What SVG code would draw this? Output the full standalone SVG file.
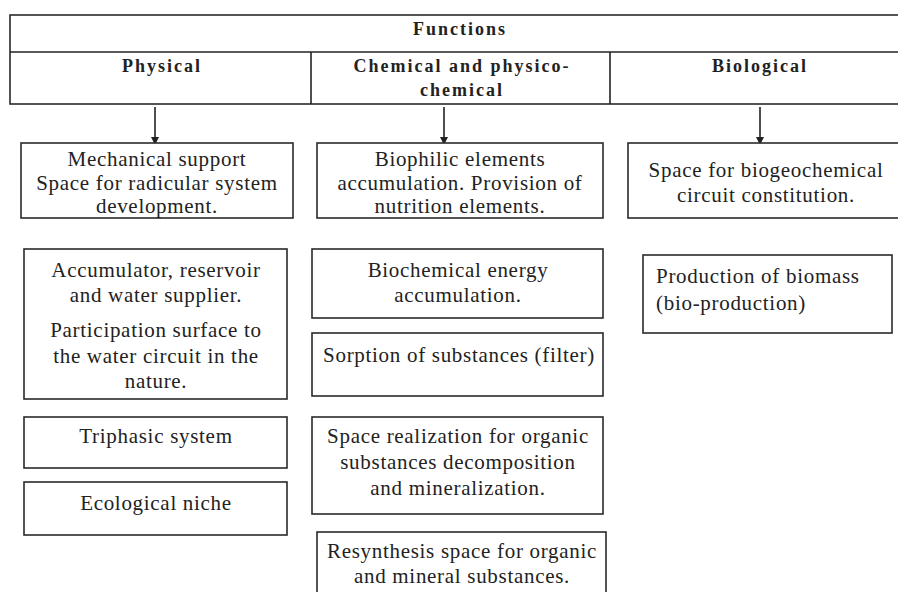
<svg xmlns="http://www.w3.org/2000/svg" width="898" height="592" viewBox="0 0 898 592">
<style>
.b{fill:#fff;stroke:#2a2a2a;stroke-width:1.6}
.t{font-family:"Liberation Serif","Times New Roman",serif;font-size:21px;fill:#222;letter-spacing:0.7px}
.h{font-family:"Liberation Serif","Times New Roman",serif;font-size:18px;font-weight:bold;fill:#222;letter-spacing:2px}
.c{text-anchor:middle}
.ln{stroke:#222;stroke-width:1.6;fill:none}
</style>
<defs>
<marker id="ah" markerWidth="8" markerHeight="8" refX="7" refY="4" orient="auto" markerUnits="userSpaceOnUse">
<path d="M0,0 L8,4 L0,8 z" fill="#222"/>
</marker>
</defs>
<rect width="898" height="592" fill="#fff"/>
<g id="header">
<rect class="b" x="10" y="15" width="892" height="89"/>
<line class="ln" x1="10" y1="52" x2="898" y2="52"/>
<line class="ln" x1="311" y1="52" x2="311" y2="104"/>
<line class="ln" x1="610" y1="52" x2="610" y2="104"/>
<text class="h c" x="460" y="35">Functions</text>
<text class="h c" x="162" y="72">Physical</text>
<text class="h c" x="462" y="72">Chemical and  physico-</text>
<text class="h c" x="462" y="96">chemical</text>
<text class="h c" x="760" y="72">Biological</text>
</g>
<g id="connectors">
<line class="ln" x1="155" y1="107" x2="155" y2="144" marker-end="url(#ah)"/>
<line class="ln" x1="444" y1="107" x2="444" y2="144" marker-end="url(#ah)"/>
<line class="ln" x1="760" y1="107" x2="760" y2="144" marker-end="url(#ah)"/>
</g>
<g id="n-mech">
<rect class="b" x="21" y="143" width="272" height="75"/>
<text class="t c" x="157" y="166">Mechanical support</text>
<text class="t c" x="157" y="190">Space for radicular system</text>
<text class="t c" x="157" y="213">development.</text>
</g>
<g id="n-biophilic">
<rect class="b" x="317" y="143" width="286" height="75"/>
<text class="t c" x="460" y="166">Biophilic elements</text>
<text class="t c" x="460" y="190">accumulation. Provision of</text>
<text class="t c" x="460" y="213">nutrition elements.</text>
</g>
<g id="n-biogeo">
<rect class="b" x="628" y="143" width="272" height="75"/>
<text class="t c" x="766" y="177">Space for biogeochemical</text>
<text class="t c" x="766" y="202">circuit constitution.</text>
</g>
<g id="n-accum">
<rect class="b" x="24" y="249" width="263" height="150"/>
<text class="t c" x="156" y="277">Accumulator, reservoir</text>
<text class="t c" x="156" y="302">and water supplier.</text>
<text class="t c" x="156" y="337">Participation surface to</text>
<text class="t c" x="156" y="363">the water circuit in the</text>
<text class="t c" x="156" y="388">nature.</text>
</g>
<g id="n-triphasic">
<rect class="b" x="24" y="417" width="263" height="51"/>
<text class="t c" x="156" y="443">Triphasic system</text>
</g>
<g id="n-niche">
<rect class="b" x="24" y="482" width="263" height="53"/>
<text class="t c" x="156" y="510">Ecological niche</text>
</g>
<g id="n-biochem">
<rect class="b" x="312" y="249" width="291" height="69"/>
<text class="t c" x="458" y="277">Biochemical energy</text>
<text class="t c" x="458" y="302">accumulation.</text>
</g>
<g id="n-sorption">
<rect class="b" x="312" y="333" width="291" height="63"/>
<text class="t c" x="459" y="362">Sorption of substances (filter)</text>
</g>
<g id="n-space">
<rect class="b" x="312" y="417" width="291" height="97"/>
<text class="t c" x="458" y="443">Space realization for organic</text>
<text class="t c" x="458" y="469">substances decomposition</text>
<text class="t c" x="458" y="495">and mineralization.</text>
</g>
<g id="n-resynth">
<rect class="b" x="317" y="532" width="289" height="70"/>
<text class="t c" x="462" y="558">Resynthesis space for organic</text>
<text class="t c" x="462" y="583">and mineral substances.</text>
</g>
<g id="n-production">
<rect class="b" x="643" y="255" width="249" height="78"/>
<text class="t" x="656" y="283">Production of biomass</text>
<text class="t" x="656" y="310">(bio-production)</text>
</g>
</svg>
